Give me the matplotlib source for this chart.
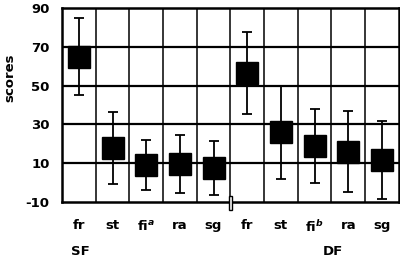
import matplotlib
matplotlib.use("Agg")
import matplotlib.pyplot as plt
from matplotlib.patches import Rectangle

# === Data ===
categories = ["fr", "st", "fi$^{a}$", "ra", "sg", "fr", "st", "fi$^{b}$", "ra", "sg"]
groups = ["SF", "DF"]
means = [65, 18, 9, 9.5, 7.5, 56.5, 26, 18.7, 16, 11.7]
errors = [20, 18.5, 13, 15, 14, 21, 24, 19, 21, 20]
yticks = [-10, 10, 30, 50, 70, 90]

plt.rcParams["font.family"] = ["DejaVu Sans"]
plt.rcParams["font.weight"] = "bold"
plt.rcParams["axes.unicode_minus"] = False

fig = plt.figure(figsize=(4.0, 2.59), dpi=100)
ax = fig.add_axes([0.155, 0.22, 0.842, 0.749])

x = list(range(len(categories)))

# grid: horizontal at the inner ticks, vertical between categories
for y in yticks[1:-1]:
    ax.axhline(y, color="black", lw=1.6, zorder=1)
for b in range(1, len(categories)):
    ax.axvline(b - 0.5, color="black", lw=1.1, zorder=1)

ax.errorbar(x, means, yerr=errors, fmt="none", ecolor="black",
            elinewidth=1.3, capsize=3.6, capthick=1.3, zorder=2)
ax.plot(x, means, "s", color="black", markersize=15.5, zorder=3)

ax.set_xlim(-0.5, len(categories) - 0.5)
ax.set_ylim(-10, 90)
ax.set_yticks(yticks)
ax.set_xticks(x)
ax.set_xticklabels(categories)
ax.tick_params(length=0, labelsize=9.5)
ax.tick_params(axis="x", pad=12)
ax.tick_params(axis="y", pad=9)
for sp in ax.spines.values():
    sp.set_linewidth(1.8)

# axis break mark between the two groups
brk = Rectangle((4.45, -14), 0.1, 7, facecolor="white", edgecolor="black",
                lw=1.0, clip_on=False, zorder=5, transform=ax.transData)
ax.add_patch(brk)

fig.text(0.025, 0.70, "scores", rotation=90, ha="center", va="center",
         fontsize=9.5, fontweight="bold")
fig.text(0.20, 0.028, groups[0], ha="center", va="center", fontsize=9.5, fontweight="bold")
fig.text(0.833, 0.028, groups[1], ha="center", va="center", fontsize=9.5, fontweight="bold")

fig.savefig("out.png", dpi=100)
